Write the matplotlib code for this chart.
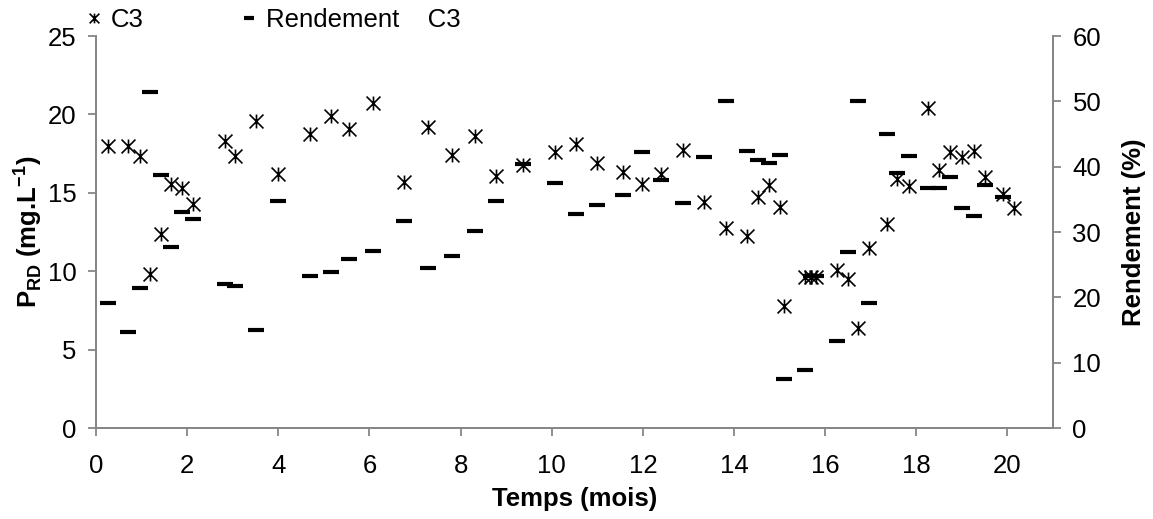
import numpy as np
import matplotlib.pyplot as plt
from matplotlib.path import Path

plt.rcParams['font.family'] = ['Liberation Sans', 'DejaVu Sans']
plt.rcParams['mathtext.fontset'] = 'custom'
plt.rcParams['mathtext.rm'] = 'Liberation Sans:bold'

# temps (mois)
temps = [0.26, 0.71, 0.96, 1.18, 1.42, 1.64, 1.89, 2.13, 2.84, 3.05, 3.52, 3.99,
         4.69, 5.16, 5.55, 6.07, 6.75, 7.28, 7.81, 8.31, 8.78, 9.36, 10.07, 10.53,
         11.0, 11.57, 11.98, 12.39, 12.87, 13.33, 13.83, 14.29, 14.52, 14.76, 15.0,
         15.09, 15.55, 15.68, 15.8, 16.26, 16.5, 16.72, 16.96, 17.36, 17.58, 17.83,
         18.25, 18.49, 18.74, 19.0, 19.26, 19.51, 19.91, 20.15]

# P_RD C3 (mg/L)
c3 = [18.0, 18.0, 17.35, 9.8, 12.4, 15.56, 15.3, 14.27, 18.28, 17.35, 19.56, 16.2,
      18.75, 19.9, 19.1, 20.7, 15.67, 19.2, 17.4, 18.65, 16.1, 16.75, 17.6, 18.13,
      16.92, 16.35, 15.54, 16.2, 17.73, 14.39, 12.77, 12.27, 14.71, 15.52, 14.1,
      7.8, 9.65, 9.65, 9.65, 10.1, 9.48, 6.36, 11.5, 12.99, 15.85, 15.42,
      20.39, 16.45, 17.58, 17.3, 17.69, 16.03, 14.95, 14.04]

# rendement C3 (%)
rendement = [19.2, 14.74, 21.5, 51.4, 38.7, 27.75, 33.1, 32.0, 22.0, 21.7, 14.95, 34.7,
             23.3, 23.9, 25.8, 27.1, 31.7, 24.5, 26.3, 30.15, 34.75, 40.4, 37.45, 32.8,
             34.2, 35.6, 42.3, 37.9, 34.5, 41.5, 50.05, 42.45, 41.0, 40.5, 41.8,
             7.55, 8.9, 23.2, 23.2, 13.27, 27.0, 50.05, 19.2, 44.95, 39.1, 41.7,
             36.7, 36.8, 38.4, 33.7, 32.45, 37.15, 35.4, np.nan]

# marqueur etoile type Excel (barre verticale + croix)
star = Path([(0, -1), (0, 1), (-1, -1), (1, 1), (-1, 1), (1, -1)],
            [Path.MOVETO, Path.LINETO, Path.MOVETO, Path.LINETO, Path.MOVETO, Path.LINETO])

grey = '#868686'
fs = 18.5
fig = plt.figure(figsize=(11.53, 5.19), dpi=100)
ax1 = fig.add_axes([0.0833, 0.1753, 0.83, 0.7553])
ax2 = ax1.twinx()

l1, = ax1.plot(temps, c3, linestyle='none', marker=star, markersize=10,
               markeredgewidth=1.2, color='black', label='C3')
l2, = ax2.plot(temps, rendement, linestyle='none', marker='_', markersize=11,
               markeredgewidth=3, color='black', label='Rendement    C3')

ax1.set_xlim(0, 21)
ax1.set_ylim(0, 25)
ax2.set_ylim(0, 60)
ax1.set_xticks(range(0, 21, 2))
ax1.set_yticks(range(0, 26, 5))
ax2.set_yticks(range(0, 61, 10))

for ax in (ax1, ax2):
    ax.spines['top'].set_visible(False)
    for s in ('left', 'right', 'bottom'):
        ax.spines[s].set_color(grey)
        ax.spines[s].set_linewidth(1.3)
    ax.tick_params(colors=grey, labelcolor='black', labelsize=fs, width=1.3,
                   length=6, direction='out', pad=8)
ax1.tick_params(axis='x', pad=13)

ax1.set_xlabel('Temps (mois)', fontsize=fs, fontweight='bold')
ax1.set_ylabel(r'P$_{\mathrm{RD}}$ (mg.L$^{\mathrm{-1}}$)', fontsize=fs, fontweight='bold')
ax2.set_ylabel('Rendement (%)', fontsize=fs, fontweight='bold')
ax1.xaxis.set_label_coords(0.5, -0.18)
ax1.xaxis.label.set_va('center')
ax1.yaxis.set_label_coords(-0.072, 0.5)
ax1.yaxis.label.set_va('center')
ax2.yaxis.set_label_coords(1.085, 0.5)
ax2.yaxis.label.set_va('center')

leg = fig.legend(handles=[l1, l2], loc='upper left', bbox_to_anchor=(0.055, 1.03),
                 ncol=2, frameon=False, fontsize=fs, handlelength=0.6,
                 handletextpad=0.35, columnspacing=3.8, markerscale=0.7)

fig.savefig('out.png', dpi=100)
